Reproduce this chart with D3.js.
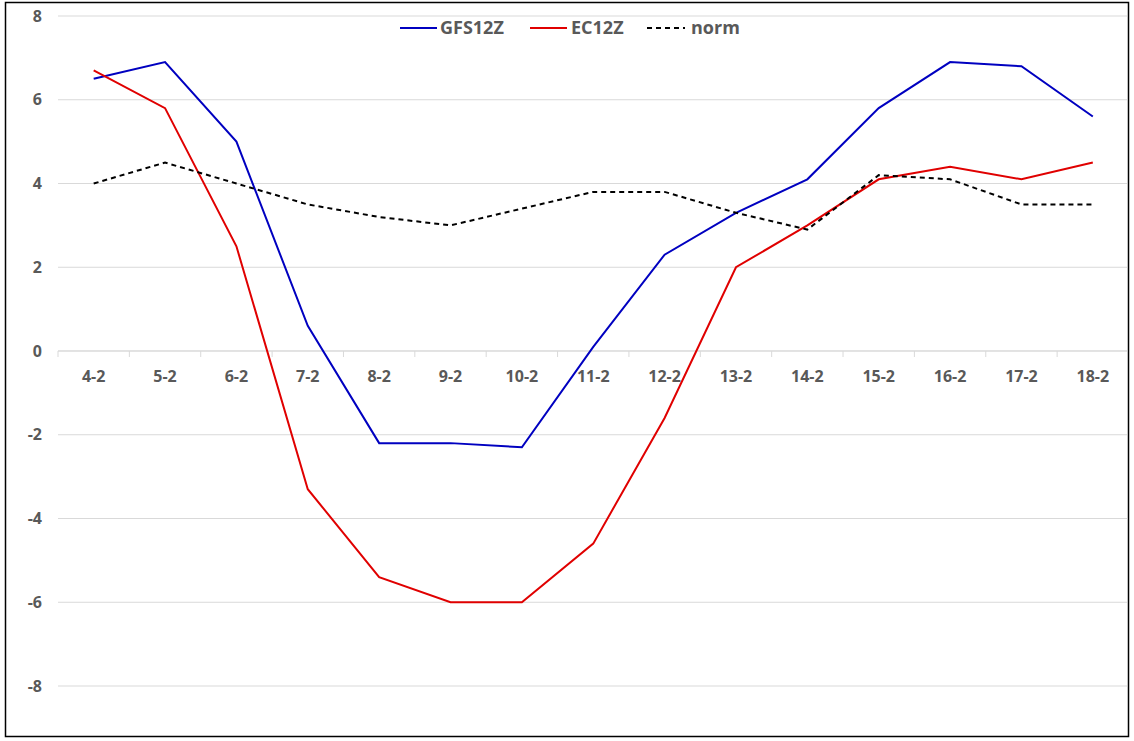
<!DOCTYPE html>
<html><head><meta charset="utf-8">
<script src="https://cdn.jsdelivr.net/npm/d3@7"></script>
<style>body{margin:0;background:#fff;}svg{display:block;font-family:"Open Sans","Noto Sans",sans-serif;}</style>
</head><body>
<svg id="chart" width="1134" height="741"></svg>
<script>
const categories = ["4-2","5-2","6-2","7-2","8-2","9-2","10-2","11-2","12-2","13-2","14-2","15-2","16-2","17-2","18-2"];
const gfs12z = [6.5, 6.9, 5.0, 0.6, -2.2, -2.2, -2.3, 0.1, 2.3, 3.3, 4.1, 5.8, 6.9, 6.8, 5.6];
const ec12z  = [6.7, 5.8, 2.5, -3.3, -5.4, -6.0, -6.0, -4.6, -1.6, 2.0, 3.0, 4.1, 4.4, 4.1, 4.5];
const norm   = [4.0, 4.5, 4.0, 3.5, 3.2, 3.0, 3.4, 3.8, 3.8, 3.3, 2.9, 4.2, 4.1, 3.5, 3.5];
const yTicks = [8, 6, 4, 2, 0, -2, -4, -6, -8];
const seriesNames = ["GFS12Z", "EC12Z", "norm"];

const svg = d3.select("#chart");
svg.append("rect").attr("x",5.5).attr("y",2.5).attr("width",1123).attr("height",734)
  .attr("fill","#fff").attr("stroke","#000").attr("stroke-width",1.5);

const x = d3.scaleBand().domain(categories).range([58,1128.5]);
const y = d3.scaleLinear().domain([-8,8]).range([686,16]);

// gridlines
svg.append("g").selectAll("line").data(yTicks).join("line")
  .attr("x1",58).attr("x2",1127).attr("y1",d=>y(d)).attr("y2",d=>y(d))
  .attr("stroke","#d9d9d9").attr("stroke-width",1);

// y labels
svg.append("g").selectAll("text").data(yTicks).join("text")
  .attr("x",42).attr("y",d=>y(d)).attr("dy","0.35em").attr("text-anchor","end")
  .attr("font-size",16).attr("font-weight","bold").attr("fill","#595959")
  .text(d=>d);

// x axis at 0
const gx = svg.append("g").attr("transform",`translate(0,${y(0)})`);
gx.append("line").attr("x1",58).attr("x2",1127).attr("stroke","#d9d9d9");
gx.selectAll("line.tk").data(categories).join("line").attr("class","tk")
  .attr("x1",d=>x(d)).attr("x2",d=>x(d)).attr("y1",0).attr("y2",6).attr("stroke","#d9d9d9");
gx.selectAll("text").data(categories).join("text")
  .attr("x",d=>x(d)+x.bandwidth()/2).attr("y",25).attr("dy","0.35em").attr("text-anchor","middle")
  .attr("font-size",16).attr("font-weight","bold").attr("fill","#595959").text(d=>d);

const line = d3.line().x((d,i)=>x(categories[i])+x.bandwidth()/2).y(d=>y(d));
const styles = [
  {data:gfs12z, color:"#0000c0", dash:null},
  {data:ec12z, color:"#e00000", dash:null},
  {data:norm, color:"#000", dash:"5,4"}
];
styles.forEach(s=>{
  svg.append("path").datum(s.data).attr("d",line).attr("fill","none")
    .attr("stroke",s.color).attr("stroke-width",2).attr("stroke-dasharray",s.dash);
});

// legend
const legLine = [[400,437],[530,567],[647,685]];
const legText = [440, 571, 691];
const lg = svg.append("g");
styles.forEach((s,i)=>{
  lg.append("line").attr("x1",legLine[i][0]).attr("x2",legLine[i][1]).attr("y1",28).attr("y2",28)
    .attr("stroke",s.color).attr("stroke-width",2).attr("stroke-dasharray",s.dash);
  lg.append("text").attr("x",legText[i]).attr("y",28).attr("dy","0.35em")
    .attr("font-size",18).attr("font-weight","bold").attr("fill","#595959").text(seriesNames[i]);
});
</script>
</body></html>
